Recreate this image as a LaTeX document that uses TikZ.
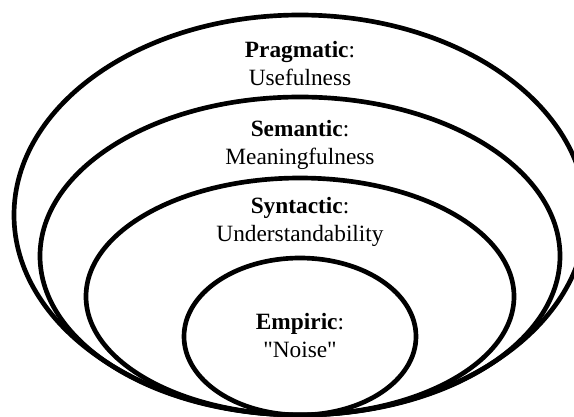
\documentclass[tikz,border=0pt]{standalone}
\usepackage{fontspec}
\setmainfont{Liberation Serif}
\usetikzlibrary{calc,positioning}

\begin{document}
\begin{tikzpicture}[x=0.75pt, y=-0.75pt, line join=round, line cap=round]
		
		% Styles
		\tikzset{
			ring/.style={draw=black, line width=3.5pt},
			layer/.style={align=center, anchor=base, inner sep=0pt,
				font=\fontsize{17.5pt}{21pt}\selectfont}
		}
		
		% Frame of the picture
		\useasboundingbox (0, 0) rectangle (574, 417);
		\clip (0, 0) rectangle (574, 417);
		
		% Centres of the nested rings
		\coordinate (Prag) at (300, 215);
		\coordinate (Sem) at (300, 256);
		\coordinate (Syn) at (300, 296.5);
		\coordinate (Emp) at (300, 336.5);
		
		% 1. Pragmatic ring (outer)
		\draw[ring] (Prag) ellipse [x radius=286, y radius=200];
		
		% 2. Semantic ring
		\draw[ring] (Sem) ellipse [x radius=260, y radius=159];
		
		% 3. Syntactic ring
		\draw[ring] (Syn) ellipse [x radius=214, y radius=118.5];
		
		% 4. Empiric ring (inner)
		\draw[ring] (Emp) ellipse [x radius=116, y radius=78.5];
		
		% 5. Labels (base = baseline of the last line)
		\node[layer] (pragmatic) at (300, 86) {\textbf{Pragmatic}:\\Usefulness};
		\node[layer] (semantic) at (300, 165) {\textbf{Semantic}:\\Meaningfulness};
		\node[layer] (syntactic) at (300, 241) {\textbf{Syntactic}:\\Understandability};
		\node[layer] (empiric) at (300, 357) {\textbf{Empiric}:\\\textquotedbl Noise\textquotedbl};
		
	\end{tikzpicture}
\end{document}
